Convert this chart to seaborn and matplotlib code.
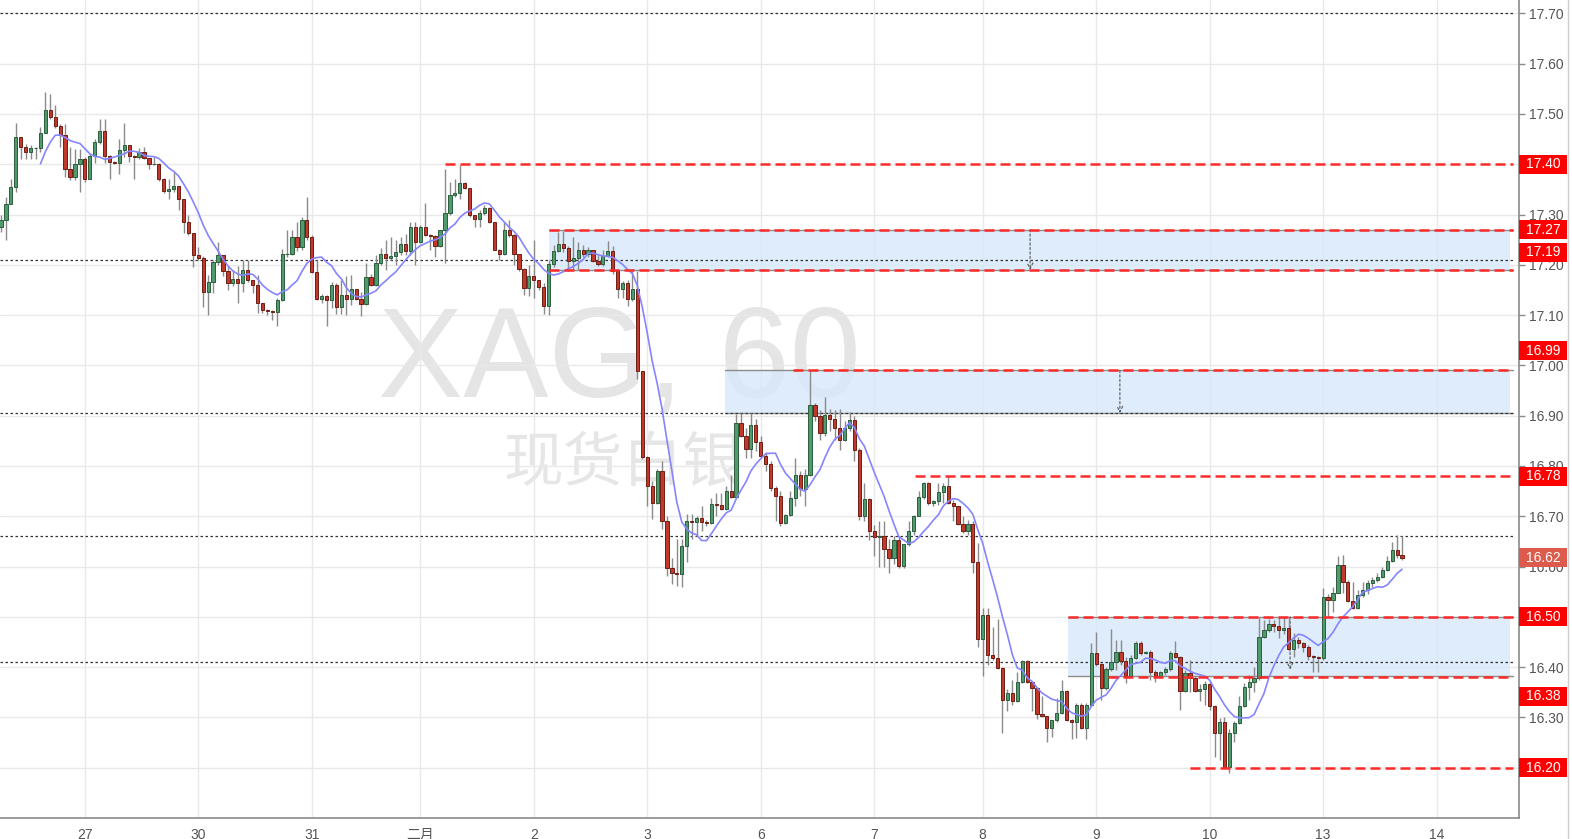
import numpy as np
import pandas as pd
import seaborn as sns
import matplotlib.pyplot as plt
from matplotlib.patches import Rectangle
from matplotlib.lines import Line2D

# hourly XAG candles (open of each bar = previous close)
first_open = 17.275
closes = [
    17.29, 17.32, 17.355, 17.455, 17.435, 17.425, 17.432, 17.432, 17.463, 17.508,
    17.493, 17.476, 17.458, 17.39, 17.374, 17.40, 17.41, 17.37, 17.416, 17.445,
    17.466, 17.416, 17.405, 17.403, 17.428, 17.438, 17.417, 17.414, 17.425, 17.412,
    17.40, 17.40, 17.37, 17.346, 17.35, 17.356, 17.33, 17.286, 17.263, 17.22,
    17.213, 17.145, 17.165, 17.206, 17.22, 17.187, 17.163, 17.172, 17.163, 17.19,
    17.17, 17.159, 17.125, 17.11, 17.109, 17.106, 17.13, 17.221, 17.222, 17.256,
    17.236, 17.29, 17.256, 17.186, 17.133, 17.138, 17.13, 17.16, 17.116, 17.14,
    17.133, 17.151, 17.133, 17.123, 17.175, 17.16, 17.204, 17.221, 17.214, 17.217,
    17.226, 17.241, 17.228, 17.275, 17.246, 17.275, 17.26, 17.257, 17.238, 17.269,
    17.303, 17.338, 17.343, 17.363, 17.353, 17.30, 17.292, 17.303, 17.312, 17.285,
    17.23, 17.222, 17.27, 17.26, 17.222, 17.192, 17.153, 17.177, 17.17, 17.155,
    17.118, 17.202, 17.228, 17.242, 17.233, 17.207, 17.213, 17.229, 17.221, 17.229,
    17.207, 17.201, 17.218, 17.228, 17.188, 17.152, 17.163, 17.132, 17.152, 16.989,
    16.817, 16.76, 16.727, 16.79, 16.691, 16.598, 16.588, 16.586, 16.641, 16.691,
    16.688, 16.696, 16.688, 16.687, 16.724, 16.723, 16.714, 16.75, 16.738, 16.885,
    16.86, 16.834, 16.882, 16.847, 16.82, 16.804, 16.757, 16.74, 16.687, 16.703,
    16.736, 16.783, 16.754, 16.783, 16.922, 16.899, 16.866, 16.902, 16.893, 16.875,
    16.852, 16.875, 16.892, 16.832, 16.70, 16.734, 16.67, 16.659, 16.661, 16.635,
    16.617, 16.653, 16.602, 16.644, 16.67, 16.701, 16.738, 16.767, 16.726, 16.73,
    16.748, 16.76, 16.726, 16.72, 16.685, 16.67, 16.685, 16.61, 16.455, 16.504,
    16.425, 16.418, 16.398, 16.335, 16.349, 16.332, 16.37, 16.413, 16.371, 16.358,
    16.307, 16.302, 16.279, 16.294, 16.308, 16.352, 16.294, 16.29, 16.325, 16.279,
    16.325, 16.429, 16.407, 16.358, 16.397, 16.41, 16.431, 16.413, 16.383, 16.419,
    16.448, 16.428, 16.431, 16.391, 16.383, 16.391, 16.396, 16.428, 16.421, 16.352,
    16.388, 16.378, 16.352, 16.357, 16.367, 16.322, 16.269, 16.29, 16.202, 16.269,
    16.289, 16.323, 16.361, 16.371, 16.378, 16.46, 16.474, 16.486, 16.482, 16.473,
    16.477, 16.436, 16.453, 16.448, 16.44, 16.422, 16.42, 16.419, 16.54, 16.534,
    16.548, 16.603, 16.57, 16.532, 16.517, 16.544, 16.554, 16.567, 16.573, 16.579,
    16.593, 16.612, 16.633, 16.623, 16.618,
]
highs = [
    17.30, 17.335, 17.37, 17.483, 17.455, 17.44, 17.438, 17.435, 17.475, 17.544,
    17.54, 17.517, 17.48, 17.48, 17.435, 17.43, 17.43, 17.415, 17.42, 17.45,
    17.49, 17.49, 17.418, 17.406, 17.45, 17.483, 17.438, 17.418, 17.432, 17.435,
    17.412, 17.415, 17.402, 17.372, 17.37, 17.385, 17.356, 17.33, 17.30, 17.263,
    17.236, 17.217, 17.18, 17.21, 17.245, 17.22, 17.197, 17.19, 17.197, 17.21,
    17.21, 17.17, 17.18, 17.12, 17.112, 17.11, 17.135, 17.232, 17.27, 17.269,
    17.285, 17.295, 17.335, 17.259, 17.21, 17.142, 17.14, 17.165, 17.163, 17.17,
    17.178, 17.18, 17.152, 17.145, 17.204, 17.182, 17.219, 17.234, 17.25, 17.255,
    17.25, 17.255, 17.262, 17.285, 17.285, 17.28, 17.322, 17.262, 17.26, 17.27,
    17.39, 17.365, 17.37, 17.398, 17.365, 17.353, 17.30, 17.31, 17.318, 17.314,
    17.285, 17.232, 17.285, 17.29, 17.262, 17.222, 17.193, 17.20, 17.25, 17.17,
    17.163, 17.21, 17.24, 17.265, 17.268, 17.237, 17.255, 17.245, 17.24, 17.235,
    17.23, 17.22, 17.23, 17.248, 17.238, 17.192, 17.168, 17.17, 17.188, 17.188,
    16.989, 16.82, 16.77, 16.793, 16.81, 16.70, 16.618, 16.655, 16.655, 16.704,
    16.705, 16.70, 16.72, 16.692, 16.737, 16.746, 16.746, 16.76, 16.783, 16.903,
    16.905, 16.876, 16.905, 16.893, 16.86, 16.827, 16.81, 16.76, 16.75, 16.705,
    16.75, 16.815, 16.79, 16.793, 16.99, 16.925, 16.912, 16.938, 16.913, 16.912,
    16.913, 16.89, 16.908, 16.899, 16.835, 16.766, 16.736, 16.682, 16.69, 16.69,
    16.655, 16.66, 16.66, 16.645, 16.69, 16.703, 16.75, 16.769, 16.769, 16.733,
    16.766, 16.766, 16.78, 16.733, 16.72, 16.70, 16.693, 16.69, 16.647, 16.517,
    16.517, 16.48, 16.495, 16.40, 16.356, 16.375, 16.39, 16.414, 16.414, 16.372,
    16.36, 16.342, 16.302, 16.295, 16.338, 16.375, 16.355, 16.296, 16.328, 16.328,
    16.328, 16.448, 16.469, 16.408, 16.40, 16.475, 16.454, 16.454, 16.42, 16.425,
    16.451, 16.451, 16.433, 16.434, 16.394, 16.393, 16.40, 16.432, 16.451, 16.422,
    16.395, 16.415, 16.383, 16.367, 16.373, 16.37, 16.325, 16.298, 16.30, 16.276,
    16.292, 16.342, 16.368, 16.385, 16.40, 16.50, 16.494, 16.495, 16.494, 16.50,
    16.50, 16.498, 16.467, 16.46, 16.45, 16.444, 16.424, 16.422, 16.557, 16.545,
    16.56, 16.62, 16.623, 16.573, 16.57, 16.553, 16.57, 16.573, 16.58, 16.587,
    16.60, 16.62, 16.648, 16.662, 16.66,
]
lows = [
    17.265, 17.25, 17.34, 17.345, 17.41, 17.41, 17.41, 17.41, 17.425, 17.462,
    17.49, 17.472, 17.435, 17.375, 17.368, 17.368, 17.345, 17.365, 17.37, 17.402,
    17.44, 17.402, 17.37, 17.40, 17.38, 17.415, 17.405, 17.37, 17.41, 17.41,
    17.39, 17.398, 17.366, 17.343, 17.33, 17.345, 17.31, 17.263, 17.26, 17.195,
    17.21, 17.117, 17.10, 17.144, 17.20, 17.177, 17.15, 17.157, 17.125, 17.146,
    17.165, 17.144, 17.104, 17.104, 17.10, 17.09, 17.078, 17.128, 17.215, 17.22,
    17.228, 17.23, 17.25, 17.183, 17.13, 17.125, 17.078, 17.115, 17.103, 17.103,
    17.10, 17.12, 17.13, 17.098, 17.12, 17.157, 17.157, 17.20, 17.19, 17.21,
    17.20, 17.22, 17.22, 17.22, 17.20, 17.243, 17.258, 17.23, 17.216, 17.236,
    17.204, 17.30, 17.335, 17.33, 17.35, 17.295, 17.275, 17.275, 17.30, 17.283,
    17.229, 17.21, 17.22, 17.255, 17.20, 17.188, 17.14, 17.138, 17.135, 17.15,
    17.103, 17.10, 17.195, 17.225, 17.225, 17.188, 17.19, 17.19, 17.215, 17.215,
    17.205, 17.198, 17.197, 17.215, 17.182, 17.135, 17.135, 17.118, 17.128, 16.973,
    16.814, 16.72, 16.694, 16.725, 16.675, 16.582, 16.565, 16.562, 16.56, 16.61,
    16.655, 16.66, 16.67, 16.68, 16.685, 16.70, 16.712, 16.712, 16.737, 16.737,
    16.857, 16.815, 16.815, 16.83, 16.818, 16.79, 16.75, 16.69, 16.68, 16.685,
    16.70, 16.72, 16.74, 16.72, 16.78, 16.89, 16.852, 16.86, 16.87, 16.852,
    16.832, 16.85, 16.87, 16.81, 16.693, 16.69, 16.653, 16.62, 16.60, 16.60,
    16.587, 16.605, 16.598, 16.598, 16.64, 16.662, 16.70, 16.735, 16.722, 16.72,
    16.722, 16.726, 16.724, 16.69, 16.683, 16.667, 16.662, 16.587, 16.44, 16.382,
    16.405, 16.414, 16.396, 16.27, 16.312, 16.325, 16.33, 16.368, 16.368, 16.312,
    16.297, 16.30, 16.252, 16.262, 16.29, 16.306, 16.292, 16.257, 16.259, 16.277,
    16.257, 16.322, 16.402, 16.335, 16.355, 16.392, 16.394, 16.405, 16.368, 16.38,
    16.416, 16.425, 16.426, 16.375, 16.371, 16.378, 16.385, 16.392, 16.418, 16.315,
    16.35, 16.35, 16.35, 16.332, 16.325, 16.315, 16.222, 16.216, 16.199, 16.19,
    16.252, 16.287, 16.32, 16.335, 16.35, 16.375, 16.457, 16.47, 16.47, 16.458,
    16.465, 16.433, 16.42, 16.438, 16.43, 16.414, 16.39, 16.39, 16.415, 16.50,
    16.51, 16.547, 16.547, 16.53, 16.515, 16.515, 16.54, 16.546, 16.56, 16.57,
    16.577, 16.592, 16.61, 16.617, 16.614,
]
assert len(closes) == len(highs) == len(lows)

# first bar of each trading day and its label
day_bars = [17, 40, 63, 85, 108, 131, 154, 177, 199, 222, 245, 268, 291]
day_labels = ['27', '30', '31', '二月', '2', '3', '6', '7', '8', '9', '10', '13', '14']

# horizontal levels drawn on the chart
dotted_levels = [17.70, 17.21, 16.905, 16.66, 16.41]
red_levels = [17.40, 17.27, 17.19, 16.99, 16.78, 16.50, 16.38, 16.20]
red_starts = [90.0, 111.1, 111.1, 160.5, 185.3, 216.3, 224.4, 241.0]
zones = [(111.1, 17.19, 17.27), (146.8, 16.905, 16.99), (216.3, 16.383, 16.50)]
zone_arrows = [(208.6, 17.27, 17.19), (226.8, 16.99, 16.905), (261.3, 16.50, 16.395)]
ma_period = 9

sns.set_style('white')
plt.rcParams['font.family'] = ['Liberation Sans', 'Noto Sans CJK SC', 'DejaVu Sans']

W, H = 1572, 839
fig = plt.figure(figsize=(W / 100, H / 100), dpi=100)
ax = fig.add_axes([0, 21 / H, 1519 / W, 818 / H])
y0, y1 = 16.10, 17.7266
x0, x1 = -0.2, 307.7
px = (y1 - y0) / 818  # price per pixel

c = np.array(closes)
o = np.concatenate([[first_open], c[:-1]])
hi = np.maximum(np.array(highs), np.maximum(o, c))
lo = np.minimum(np.array(lows), np.minimum(o, c))
bars = np.arange(len(c))
up = c >= o
body_lo = np.minimum(o, c)
body_h = np.maximum(np.abs(c - o), 0.0012)

# watermark
ax.text(378 / W, 1 - 397 / H, 'XAG, 60', transform=fig.transFigure, fontsize=92,
        color='#e5e5e5', ha='left', va='baseline', zorder=0.3)
ax.text(503 / W, 1 - 464 / H, '现货白银', transform=fig.transFigure, fontsize=43,
        color='#e6e6e6', ha='left', va='center', zorder=0.3,
        family=['Noto Sans CJK SC', 'DejaVu Sans'])

# zones
for (zs, zl, zh) in zones:
    ax.add_patch(Rectangle((zs, zl), 305.8 - zs, zh - zl, facecolor='#d6e8fc',
                           alpha=0.8, edgecolor='none', zorder=1))
    ax.plot([zs, 306.5], [zl, zl], color='#8c8c8c', lw=1, zorder=1.5)
    ax.plot([zs, 306.5], [zh, zh], color='#8c8c8c', lw=1, zorder=1.5)

for lv in dotted_levels:
    ax.plot([x0, 306.5], [lv, lv], color='#333333', lw=0.9, ls=(0, (2, 2)), zorder=2)

for (ax_x, a_top, a_bot) in zone_arrows:
    ax.annotate('', xy=(ax_x, a_bot), xytext=(ax_x, a_top),
                arrowprops=dict(arrowstyle='->', color='#555555', lw=0.8,
                                linestyle=(0, (2, 2)), shrinkA=0, shrinkB=0),
                zorder=2)

# candles
ax.vlines(bars, lo, hi, color='#8a8a8a', lw=1, zorder=3)
ax.bar(bars[up], body_h[up], bottom=body_lo[up], width=0.66, color='#4f9b6c',
       edgecolor='#2c5e3e', linewidth=0.7, zorder=4)
ax.bar(bars[~up], body_h[~up], bottom=body_lo[~up], width=0.66, color='#c0392b',
       edgecolor='#6e1e14', linewidth=0.7, zorder=4)

# moving average
ma = pd.DataFrame({'bar': bars, 'ma': pd.Series(c).rolling(ma_period).mean()})
sns.lineplot(data=ma, x='bar', y='ma', color='#8585ff', lw=1.2, ax=ax, zorder=5)

for lv, st in zip(red_levels, red_starts):
    ax.plot([st, 306.5], [lv, lv], color='#ff2a2a', lw=1.8, ls=(0, (4, 2)), zorder=6)

# axes styling
ax.set_xlim(x0, x1)
ax.set_ylim(y0, y1)
ax.set_xticks(day_bars)
ax.set_xticklabels(day_labels)
ax.set_yticks(np.round(np.arange(16.2, 17.71, 0.1), 2))
ax.yaxis.set_major_formatter(plt.FormatStrFormatter('%.2f'))
ax.yaxis.tick_right()
ax.grid(True, color='#e9e9e9', lw=1)
ax.set_axisbelow(True)
ax.set_xlabel('')
ax.set_ylabel('')
for s in ['left', 'top']:
    ax.spines[s].set_visible(False)
for s in ['right', 'bottom']:
    ax.spines[s].set_color('#8a8a8a')
    ax.spines[s].set_linewidth(1.2)
ax.tick_params(axis='both', colors='#8a8a8a', labelcolor='#555555', labelsize=10,
               length=4, width=1, pad=3)

# price labels on the right axis
label_shift = {17.19: 17.5, 16.99: 19.5, 16.38: -19}
boxes = [(lv, '#ff0000') for lv in red_levels] + [(c[-1], '#dc5b4c')]
for lv, col in boxes:
    yc = lv + label_shift.get(lv, 0) * px
    ax.add_patch(Rectangle((1.0, yc - 9.5 * px), 48 / 1519, 19 * px,
                           transform=ax.get_yaxis_transform(), facecolor=col,
                           edgecolor='none', clip_on=False, zorder=8))
    ax.text(1.0 + 24 / 1519, yc, f'{lv:.2f}', transform=ax.get_yaxis_transform(),
            color='white', fontsize=10, ha='center', va='center', zorder=9,
            clip_on=False)

fig.add_artist(Line2D([1568 / W, 1568 / W], [0, 1], color='#cccccc', lw=1))

plt.savefig('out.png', dpi=100)
